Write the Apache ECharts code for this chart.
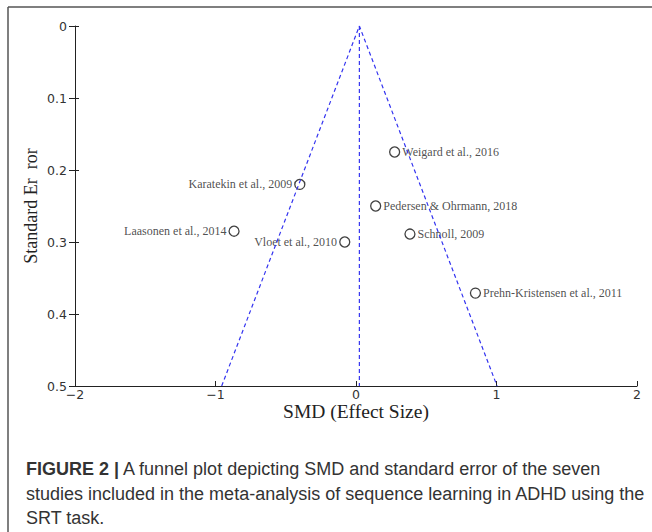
<!DOCTYPE html>
<html>
<head>
<meta charset="utf-8">
<script src="https://cdn.jsdelivr.net/npm/echarts@6/dist/echarts.min.js"></script>
<style>
html,body{margin:0;padding:0;background:#fff;}
#chart{width:652px;height:532px;}
</style>
</head>
<body>
<div id="chart"></div>
<script>
// ---- data ----
var studies = ["Weigard et al., 2016","Karatekin et al., 2009","Pedersen & Ohrmann, 2018","Laasonen et al., 2014","Schnoll, 2009","Vloet et al., 2010","Prehn-Kristensen et al., 2011"];
var smd = [0.275, -0.40, 0.14, -0.868, 0.384, -0.08, 0.85];
var se = [0.175, 0.220, 0.250, 0.285, 0.289, 0.300, 0.371];
var labelSide = ["right","left","right","left","right","left","right"];
var pooledSMD = 0.024;
var funnelSE = [0, 0.5];
var xTicks = [-2, -1, 0, 1, 2];
var yTicks = [0, 0.1, 0.2, 0.3, 0.4, 0.5];

var chart = echarts.init(document.getElementById('chart'), null, {renderer:'svg'});

var funnel = [
  [pooledSMD - 1.96*funnelSE[1], funnelSE[1]],
  [pooledSMD, funnelSE[0]],
  [pooledSMD + 1.96*funnelSE[1], funnelSE[1]]
];
var centerLine = [[pooledSMD, funnelSE[0]], [pooledSMD, funnelSE[1]]];

var pts = studies.map(function(s,i){
  return {name:s, value:[smd[i], se[i]], label:{position:labelSide[i]}};
});

var serif = '"Liberation Serif","Times New Roman",serif';
var sans = '"DejaVu Sans",Verdana,sans-serif';
var blue = '#3434f0';

chart.setOption({
  animation:false,
  backgroundColor:'#fff',
  grid:{left:75, right:15, top:26, bottom:146, containLabel:false},
  xAxis:{
    type:'value', min:xTicks[0], max:xTicks[xTicks.length-1], interval:1,
    splitLine:{show:false},
    axisLine:{onZero:false, lineStyle:{color:'#222', width:1}},
    axisTick:{inside:true, length:5, lineStyle:{color:'#222'}},
    axisLabel:{color:'#333', fontFamily:sans, fontSize:12.5, margin:2,
      formatter:function(v){return String(v).replace('-', '\u2212');}},
    name:'SMD (Effect Size)', nameLocation:'middle', nameGap:15, nameMoveOverlap:false,
    nameTextStyle:{fontFamily:serif, fontSize:19.5, color:'#222'}
  },
  yAxis:[{
    type:'value', inverse:true, min:yTicks[0], max:yTicks[yTicks.length-1], interval:0.1,
    splitLine:{show:false},
    axisLine:{onZero:false, lineStyle:{color:'#222', width:1}},
    axisTick:{inside:false, length:6, lineStyle:{color:'#222'}},
    axisLabel:{color:'#333', fontFamily:sans, fontSize:12.5, margin:8},
    name:'Standard Er  ror', nameLocation:'middle', nameGap:35, nameMoveOverlap:false,
    nameTextStyle:{fontFamily:serif, fontSize:18, color:'#222'}
  },{
    type:'value', inverse:true, min:yTicks[0], max:yTicks[yTicks.length-1], interval:0.1,
    position:'left', splitLine:{show:false},
    axisLine:{show:false, onZero:false},
    axisTick:{inside:true, length:4, lineStyle:{color:'#222'}},
    axisLabel:{show:false}
  }],
  series:[
    {type:'line', data:funnel, symbol:'none', silent:true, color:blue,
      lineStyle:{color:blue, width:1.2, type:[4,3]}},
    {type:'line', data:centerLine, symbol:'none', silent:true, color:blue,
      lineStyle:{color:blue, width:1.2, type:[4,3]}},
    {type:'scatter', data:pts, symbol:'circle', symbolSize:10,
      itemStyle:{color:'rgba(0,0,0,0)', borderColor:'#111', borderWidth:1.3},
      label:{show:true, formatter:'{b}', fontFamily:serif, fontSize:12, color:'#222', distance:2}}
  ],
  title:{
    left:21, top:452,
    text:'{b|FIGURE 2 |} A funnel plot depicting SMD and standard error of the seven\nstudies included in the meta-analysis of sequence learning in ADHD using the\nSRT task.',
    textStyle:{
      fontFamily:'"Liberation Sans",Arial,sans-serif', fontSize:18, fontWeight:'normal',
      color:'#333', lineHeight:24.5,
      rich:{b:{fontFamily:'"Liberation Sans",Arial,sans-serif', fontSize:18, fontWeight:'bold', color:'#333', lineHeight:24.5}}
    }
  },
  graphic:[
    {type:'line', shape:{x1:8, y1:7, x2:8, y2:532}, style:{stroke:'#555', lineWidth:1.5}},
    {type:'line', shape:{x1:8, y1:7, x2:652, y2:7}, style:{stroke:'#555', lineWidth:1.5}}
  ]
});
</script>
</body>
</html>
